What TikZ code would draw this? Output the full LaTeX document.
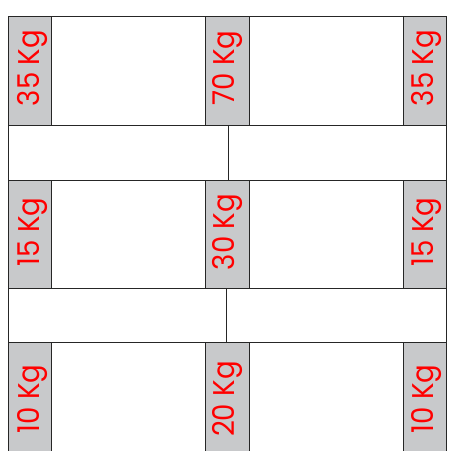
\documentclass[tikz,border=0pt]{standalone}
\usepackage{fontspec}
\setmainfont{Poppins}
\definecolor{blockgray}{RGB}{200,201,203}
\definecolor{kgred}{RGB}{255,0,0}
\newcommand{\kgtext}[1]{\scalebox{0.92}[1]{#1}}
\begin{document}
\begin{tikzpicture}[x=1pt,y=-1pt,
  frame/.style={draw=black!85,line width=1pt},
  weightblock/.style={fill=blockgray,draw=black!85,line width=1pt},
  kglabel/.style={text=kgred,rotate=90,anchor=base,inner sep=0pt,font=\fontsize{30}{30}\selectfont}]
\useasboundingbox (0,0) rectangle (452,450);
\clip (0,0) rectangle (452,450);
% shelf frame
\draw[frame] (8,16) -- (446,16);
\draw[frame] (8,125) -- (446,125);
\draw[frame] (8,180) -- (446,180);
\draw[frame] (8,288) -- (446,288);
\draw[frame] (8,342) -- (446,342);
\draw[frame] (8,16) -- (8,460);
\draw[frame] (446,16) -- (446,460);
\draw[frame] (228.5,125) -- (228.5,180);
\draw[frame] (226,288) -- (226,342);
% weight blocks
\foreach \xa/\xb/\c in {8/51/1,205/249/2,403/446/3}{
  \draw[weightblock] (\xa,16) rectangle (\xb,125);
  \draw[weightblock] (\xa,180) rectangle (\xb,288);
  \draw[weightblock] (\xa,342) rectangle (\xb,462);
}
% labels
\node[kglabel] (l11) at (39.3,68) {\kgtext{35 Kg}};
\node[kglabel] (l12) at (234.3,68) {\kgtext{70 Kg}};
\node[kglabel] (l13) at (433.3,68) {\kgtext{35 Kg}};
\node[kglabel] (l21) at (39.3,232) {\kgtext{15 Kg}};
\node[kglabel] (l22) at (234.3,232) {\kgtext{30 Kg}};
\node[kglabel] (l23) at (433.3,232) {\kgtext{15 Kg}};
\node[kglabel] (l31) at (39.3,399) {\kgtext{10 Kg}};
\node[kglabel] (l32) at (234.3,399) {\kgtext{20 Kg}};
\node[kglabel] (l33) at (433.3,399) {\kgtext{10 Kg}};
\end{tikzpicture}
\end{document}
